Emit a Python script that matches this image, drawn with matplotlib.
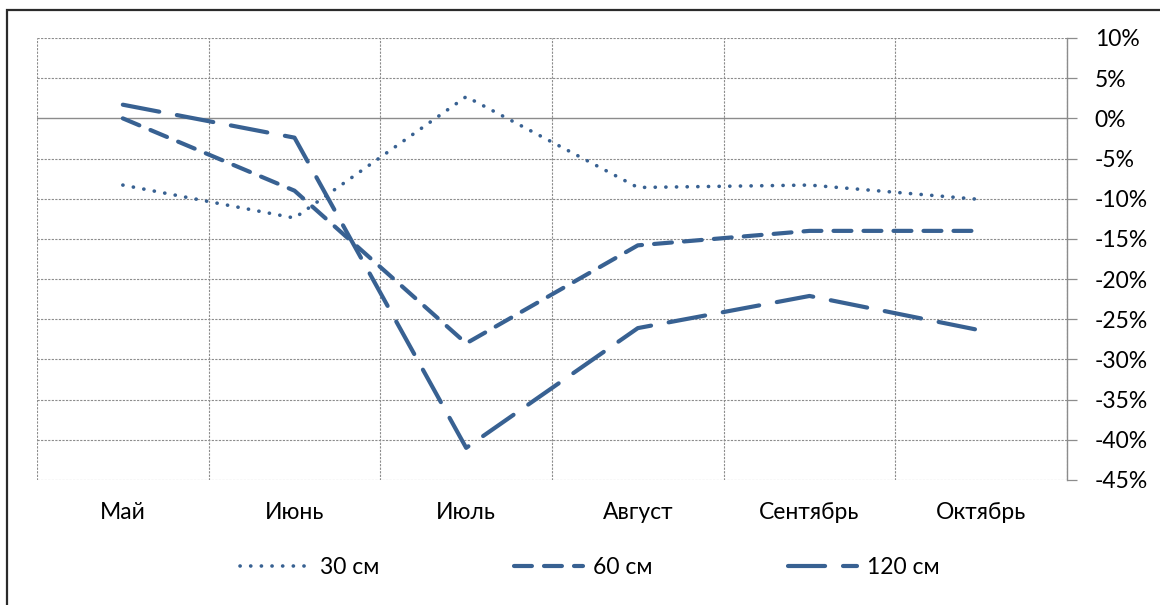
import matplotlib
matplotlib.use("Agg")
import matplotlib.pyplot as plt
from matplotlib.patches import Rectangle

plt.rcParams['font.family'] = ['Lato', 'Open Sans', 'DejaVu Sans']

months = ["Май", "Июнь", "Июль", "Август", "Сентябрь", "Октябрь"]
series_names = ["30 см", "60 см", "120 см"]
s30 = [-8.3, -12.4, 2.7, -8.6, -8.3, -10.1]
s60 = [0.0, -9.0, -28.0, -15.8, -14.0, -14.0]
s120 = [1.7, -2.4, -41.0, -26.1, -22.1, -26.4]
yticks = [10, 5, 0, -5, -10, -15, -20, -25, -30, -35, -40, -45]
ytick_labels = ["10%", "5%", "0%", "-5%", "-10%", "-15%", "-20%", "-25%", "-30%", "-35%", "-40%", "-45%"]

W, H = 1160, 605
fig = plt.figure(figsize=(W / 100, H / 100), dpi=100)
fig.patch.set_facecolor('white')

# outer frame (cropped at right and bottom)
fig.patches.append(Rectangle((7 / W, -0.05), 1.1, 1 - 10 / H + 0.05, transform=fig.transFigure,
                             fill=False, edgecolor='#2b2b2b', linewidth=1.6, zorder=0))

ax = fig.add_axes([37 / W, 1 - 480 / H, (1067 - 37) / W, (480 - 38) / H])
ax.set_facecolor('none')

color = '#386192'
x = list(range(len(months)))
ax.plot(x, s30, color=color, linewidth=2.6, linestyle=(0, (0.05, 2.9)), dash_capstyle='round',
        solid_capstyle='round', label=series_names[0], zorder=3)
ax.plot(x, s60, color=color, linewidth=3.0, linestyle=(0, (4.3, 2.9)), dash_capstyle='round',
        label=series_names[1], zorder=3)
ax.plot(x, s120, color=color, linewidth=3.0, linestyle=(0, (8.9, 4.3)), dash_capstyle='round',
        label=series_names[2], zorder=3)

ax.set_xlim(-0.5, len(months) - 0.5)
ax.set_ylim(-45, 10)

fs = 16.5
ax.set_xticks(x)
ax.set_xticklabels(months, fontsize=fs, color='black')
ax.tick_params(axis='x', length=0, pad=16)

ax.yaxis.tick_right()
ax.set_yticks(yticks)
ax.set_yticklabels(ytick_labels, fontsize=fs, color='black')
ax.tick_params(axis='y', direction='out', length=7, width=0.9, color='#8c8c8c', pad=13)

grid_kw = dict(color='#8c8c8c', linestyle=(0, (2, 1.2)), linewidth=0.8)
ax.grid(False)
for yv in yticks:
    if yv != 0:
        ax.axhline(yv, zorder=1, **grid_kw)
for i in range(len(months) + 1):
    ax.axvline(i - 0.5, zorder=1, **grid_kw)
ax.axhline(0, color='#8c8c8c', linewidth=1.0, zorder=1)

for s in ['left', 'top', 'bottom']:
    ax.spines[s].set_visible(False)
ax.spines['right'].set_color('#8c8c8c')
ax.spines['right'].set_linewidth(1.0)

leg = fig.legend(loc='center', bbox_to_anchor=(590 / W, 1 - 568 / H), ncol=3, frameon=False,
                 fontsize=fs, handlelength=3.0, columnspacing=5.9, handletextpad=0.45)
for t in leg.get_texts():
    t.set_color('black')

fig.savefig('out.png', dpi=100)
